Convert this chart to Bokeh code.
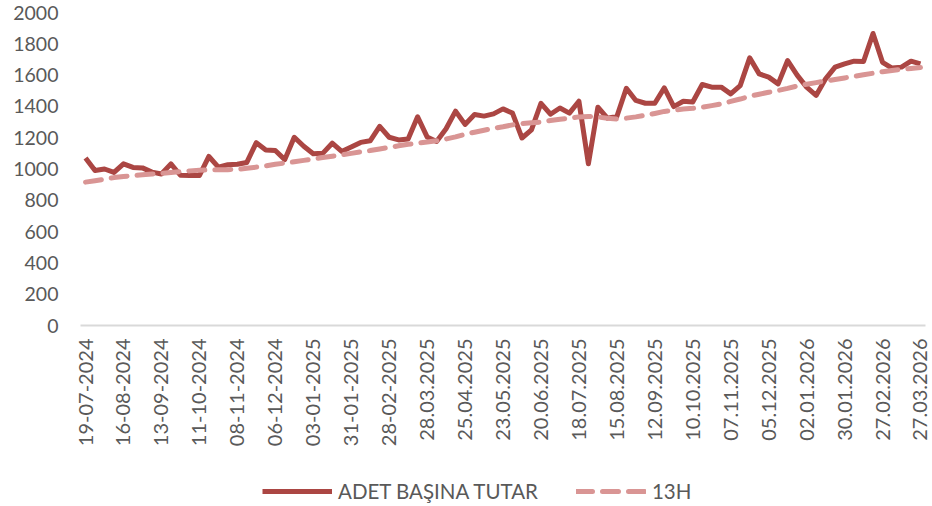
from bokeh.plotting import figure
from bokeh.models import FixedTicker, Legend, LegendItem, ColumnDataSource
from bokeh.layouts import column
from bokeh.embed import file_html
from bokeh.resources import INLINE
import math

tick_labels = ["19-07-2024", "16-08-2024", "13-09-2024", "11-10-2024", "08-11-2024",
               "06-12-2024", "03-01-2025", "31-01-2025", "28-02-2025", "28.03.2025",
               "25.04.2025", "23.05.2025", "20.06.2025", "18.07.2025", "15.08.2025",
               "12.09.2025", "10.10.2025", "07.11.2025", "05.12.2025", "02.01.2026",
               "30.01.2026", "27.02.2026", "27.03.2026"]

adet_basina_tutar = [1070, 990, 1000, 978, 1033, 1010, 1007, 980, 968, 1033,
                     960, 958, 958, 1080, 1012, 1027, 1030, 1042, 1168, 1122,
                     1118, 1060, 1203, 1145, 1098, 1100, 1165, 1112, 1140, 1170,
                     1180, 1272, 1203, 1186, 1192, 1334, 1205, 1176, 1257, 1370,
                     1285, 1348, 1338, 1352, 1384, 1357, 1198, 1250, 1420, 1350,
                     1390, 1357, 1433, 1033, 1395, 1325, 1335, 1516, 1438, 1420,
                     1420, 1518, 1399, 1433, 1428, 1540, 1523, 1523, 1480, 1533,
                     1710, 1608, 1587, 1544, 1693, 1600, 1523, 1470, 1576, 1651,
                     1672, 1689, 1687, 1866, 1682, 1645, 1651, 1689, 1672]

h13 = [916, 925, 935, 945, 952, 958, 963, 968, 972, 978,
       984, 988, 992, 994, 995, 996, 998, 1005, 1012, 1020,
       1030, 1038, 1046, 1055, 1065, 1073, 1082, 1090, 1100, 1110,
       1118, 1128, 1138, 1148, 1158, 1165, 1172, 1180, 1192, 1205,
       1222, 1235, 1248, 1260, 1270, 1282, 1290, 1296, 1300, 1310,
       1318, 1325, 1333, 1336, 1332, 1324, 1320, 1325, 1333, 1343,
       1355, 1368, 1376, 1383, 1388, 1395, 1405, 1416, 1432, 1447,
       1465, 1478, 1490, 1502, 1515, 1530, 1542, 1552, 1562, 1572,
       1582, 1592, 1602, 1612, 1622, 1630, 1636, 1642, 1648]

series_names = ["ADET BAŞINA TUTAR", "13H"]

weeks = list(range(len(adet_basina_tutar)))
tick_step = 4

FONT = "Lato"
GREY = "#595959"
SOLID = dict(line_color="#AB4643", line_width=5, line_join="round")
DASHED = dict(line_color="#D99594", line_width=5, line_dash="16 10",
              line_cap="round", line_join="round")

p = figure(width=932, height=452, output_backend="svg", toolbar_location=None,
           x_range=(-0.53, 88.53), y_range=(0, 2000),
           min_border_left=80, min_border_right=7, min_border_top=12, min_border_bottom=127)
p.outline_line_color = None
p.xgrid.grid_line_color = None
p.ygrid.grid_line_color = None

src = ColumnDataSource(dict(x=weeks, y=adet_basina_tutar, t=h13))
p.line("x", "y", source=src, **SOLID)
p.line("x", "t", source=src, **DASHED)

ticks = [i * tick_step for i in range(len(tick_labels))]
p.xaxis.ticker = FixedTicker(ticks=ticks)
p.xaxis.major_label_overrides = {t: lab for t, lab in zip(ticks, tick_labels)}
p.xaxis.major_label_orientation = math.pi / 2
p.xaxis.axis_line_color = "#D9D9D9"
p.xaxis.axis_line_width = 2
p.xaxis.major_tick_line_color = None
p.xaxis.minor_tick_line_color = None
p.xaxis.major_tick_out = 0
p.xaxis.major_label_standoff = 13
p.xaxis.major_label_text_font = FONT
p.xaxis.major_label_text_font_size = "20px"
p.xaxis.major_label_text_color = GREY

p.yaxis.ticker = FixedTicker(ticks=list(range(0, 2001, 200)))
p.yaxis.axis_line_color = None
p.yaxis.major_tick_line_color = None
p.yaxis.minor_tick_line_color = None
p.yaxis.major_tick_out = 0
p.yaxis.major_label_standoff = 22
p.yaxis.major_label_text_font = FONT
p.yaxis.major_label_text_font_size = "19.5px"
p.yaxis.major_label_text_color = GREY

# legend strip below the chart (proxy renderers share the data, kept out of view)
lg = figure(width=932, height=53, output_backend="svg", toolbar_location=None,
            min_border=0, x_range=(-0.53, 88.53), y_range=(0, 1))
lg.axis.visible = False
lg.grid.visible = False
lg.outline_line_color = None
lr1 = lg.line("x", "y", source=src, **SOLID)
lr2 = lg.line("x", "t", source=src, **DASHED)
legend = Legend(items=[LegendItem(label=series_names[0], renderers=[lr1]),
                       LegendItem(label=series_names[1], renderers=[lr2])],
                orientation="horizontal", location=(182, 2),
                label_text_font=FONT, label_text_font_size="20.5px",
                label_text_color=GREY, glyph_width=70, glyph_height=20,
                spacing=38, label_standoff=6, border_line_color=None,
                background_fill_alpha=0, padding=0, margin=0)
lg.add_layout(legend, "center")

open("out.html", "w").write(file_html(column(p, lg, spacing=0), INLINE))
